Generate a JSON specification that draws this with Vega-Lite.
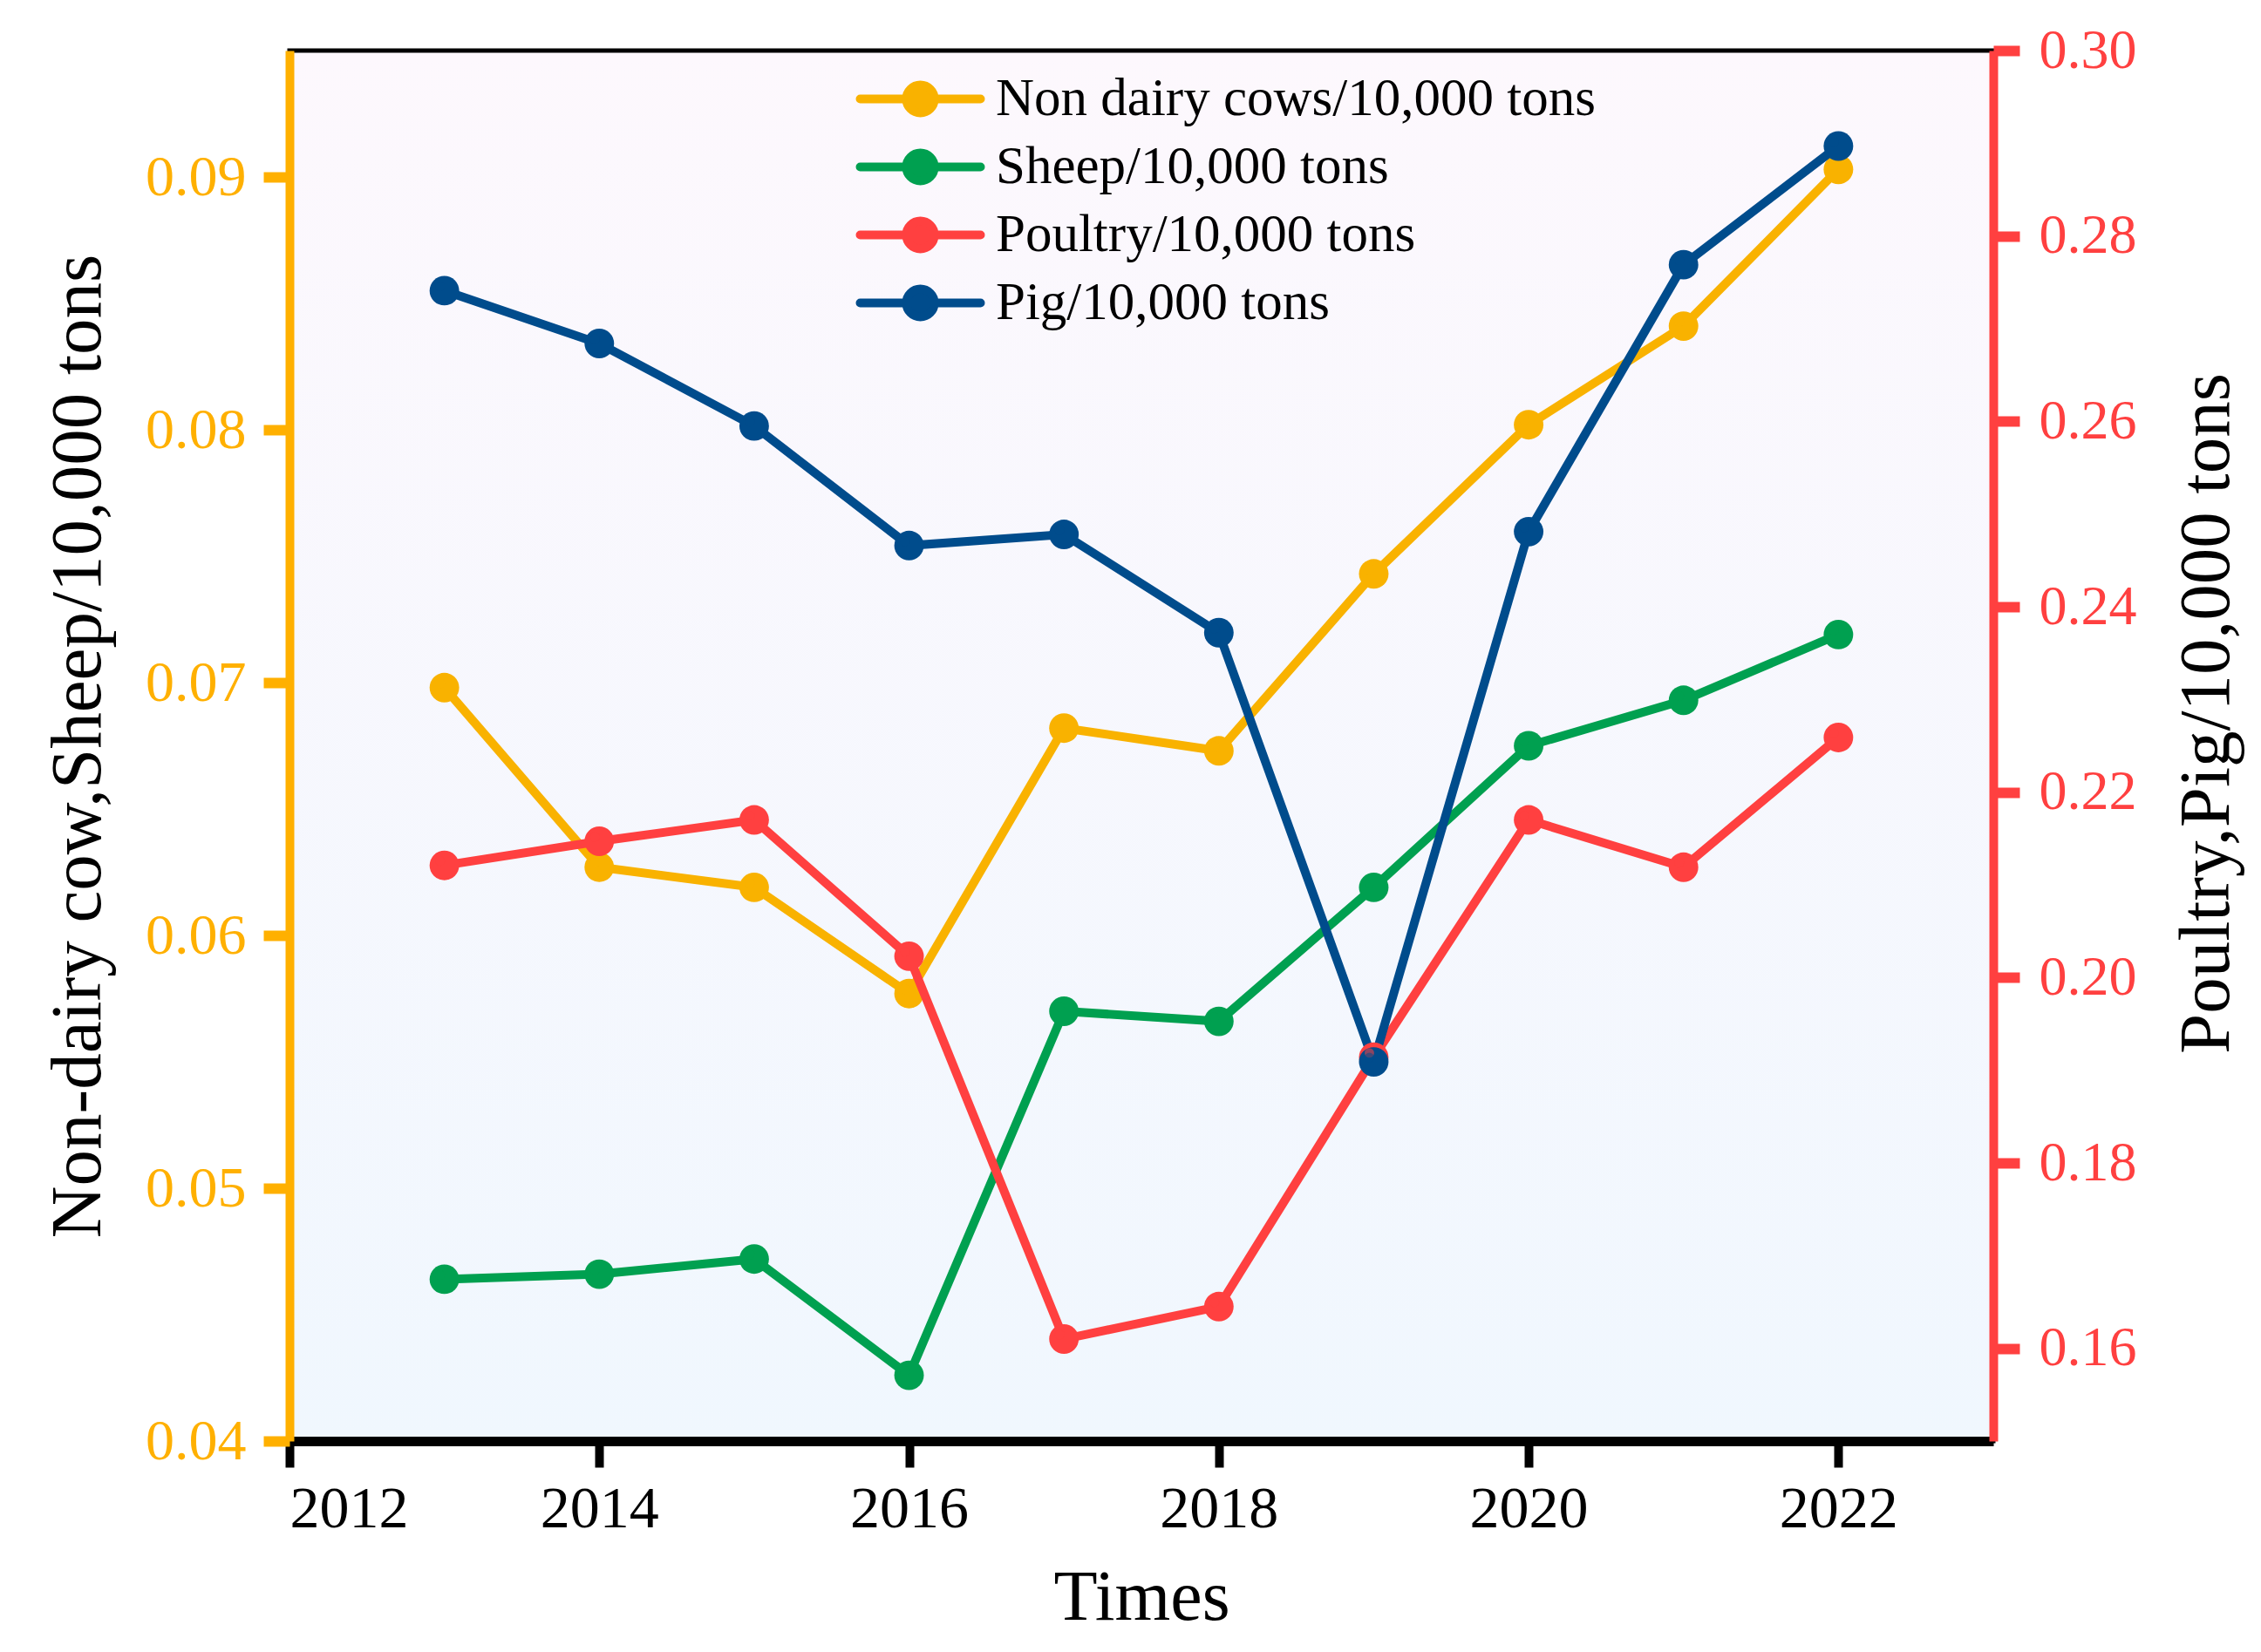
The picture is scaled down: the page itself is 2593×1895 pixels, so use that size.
{
  "$schema": "https://vega.github.io/schema/vega-lite/v6.json",
  "width": 1954,
  "height": 1595,
  "autosize": {"type": "none"},
  "padding": {"left": 332, "top": 58, "right": 307, "bottom": 242},
  "background": "white",
  "config": {
    "view": {
      "fill": {"gradient": "linear", "x1": 0, "y1": 0, "x2": 0, "y2": 1, "stops": [{"offset": 0, "color": "#FDF8FD"}, {"offset": 1, "color": "#F0F7FE"}]},
      "stroke": "black",
      "strokeWidth": 5
    },
    "font": "Liberation Serif",
    "axis": {"grid": false, "labelFont": "Liberation Serif", "titleFont": "Liberation Serif", "titleFontWeight": "normal"}
  },
  "data": {
    "values": [
      {"year": 2013, "series": "Non dairy cows/10,000 tons", "side": "left", "value": 0.0698},
      {"year": 2014, "series": "Non dairy cows/10,000 tons", "side": "left", "value": 0.0627},
      {"year": 2015, "series": "Non dairy cows/10,000 tons", "side": "left", "value": 0.0619},
      {"year": 2016, "series": "Non dairy cows/10,000 tons", "side": "left", "value": 0.0577},
      {"year": 2017, "series": "Non dairy cows/10,000 tons", "side": "left", "value": 0.0682},
      {"year": 2018, "series": "Non dairy cows/10,000 tons", "side": "left", "value": 0.0673},
      {"year": 2019, "series": "Non dairy cows/10,000 tons", "side": "left", "value": 0.0743},
      {"year": 2020, "series": "Non dairy cows/10,000 tons", "side": "left", "value": 0.0802},
      {"year": 2021, "series": "Non dairy cows/10,000 tons", "side": "left", "value": 0.0841},
      {"year": 2022, "series": "Non dairy cows/10,000 tons", "side": "left", "value": 0.0903},
      {"year": 2013, "series": "Sheep/10,000 tons", "side": "left", "value": 0.0464},
      {"year": 2014, "series": "Sheep/10,000 tons", "side": "left", "value": 0.0466},
      {"year": 2015, "series": "Sheep/10,000 tons", "side": "left", "value": 0.0472},
      {"year": 2016, "series": "Sheep/10,000 tons", "side": "left", "value": 0.0426},
      {"year": 2017, "series": "Sheep/10,000 tons", "side": "left", "value": 0.0570},
      {"year": 2018, "series": "Sheep/10,000 tons", "side": "left", "value": 0.0566},
      {"year": 2019, "series": "Sheep/10,000 tons", "side": "left", "value": 0.0619},
      {"year": 2020, "series": "Sheep/10,000 tons", "side": "left", "value": 0.0675},
      {"year": 2021, "series": "Sheep/10,000 tons", "side": "left", "value": 0.0693},
      {"year": 2022, "series": "Sheep/10,000 tons", "side": "left", "value": 0.0719},
      {"year": 2013, "series": "Poultry/10,000 tons", "side": "right", "value": 0.2121},
      {"year": 2014, "series": "Poultry/10,000 tons", "side": "right", "value": 0.2147},
      {"year": 2015, "series": "Poultry/10,000 tons", "side": "right", "value": 0.2170},
      {"year": 2016, "series": "Poultry/10,000 tons", "side": "right", "value": 0.2023},
      {"year": 2017, "series": "Poultry/10,000 tons", "side": "right", "value": 0.1610},
      {"year": 2018, "series": "Poultry/10,000 tons", "side": "right", "value": 0.1645},
      {"year": 2019, "series": "Poultry/10,000 tons", "side": "right", "value": 0.1914},
      {"year": 2020, "series": "Poultry/10,000 tons", "side": "right", "value": 0.2170},
      {"year": 2021, "series": "Poultry/10,000 tons", "side": "right", "value": 0.2119},
      {"year": 2022, "series": "Poultry/10,000 tons", "side": "right", "value": 0.2259},
      {"year": 2013, "series": "Pig/10,000 tons", "side": "right", "value": 0.2741},
      {"year": 2014, "series": "Pig/10,000 tons", "side": "right", "value": 0.2684},
      {"year": 2015, "series": "Pig/10,000 tons", "side": "right", "value": 0.2595},
      {"year": 2016, "series": "Pig/10,000 tons", "side": "right", "value": 0.2466},
      {"year": 2017, "series": "Pig/10,000 tons", "side": "right", "value": 0.2478},
      {"year": 2018, "series": "Pig/10,000 tons", "side": "right", "value": 0.2372},
      {"year": 2019, "series": "Pig/10,000 tons", "side": "right", "value": 0.1909},
      {"year": 2020, "series": "Pig/10,000 tons", "side": "right", "value": 0.2481},
      {"year": 2021, "series": "Pig/10,000 tons", "side": "right", "value": 0.2769},
      {"year": 2022, "series": "Pig/10,000 tons", "side": "right", "value": 0.2897}
    ]
  },
  "encoding": {
    "x": {
      "field": "year", "type": "quantitative",
      "scale": {"domain": [2012, 2023], "nice": false, "zero": false},
      "axis": {
        "title": "Times", "titleFont": "Liberation Serif", "titleFontSize": 82, "titleColor": "black", "titlePadding": 27,
        "values": [2012, 2014, 2016, 2018, 2020, 2022], "format": "d",
        "labelFont": "Liberation Serif", "labelFontSize": 68, "labelColor": "black", "labelPadding": 14,
        "domainColor": "black", "domainWidth": 11, "tickColor": "black", "tickWidth": 10, "tickSize": 30
      }
    },
    "color": {
      "field": "series", "type": "nominal",
      "scale": {
        "domain": ["Non dairy cows/10,000 tons", "Sheep/10,000 tons", "Poultry/10,000 tons", "Pig/10,000 tons"],
        "range": ["#F9B200", "#00A050", "#FF4040", "#004C8C"]
      },
      "legend": {
        "title": null, "orient": "none", "legendX": 693, "legendY": 25,
        "labelFontSize": 61, "labelFont": "Liberation Serif", "labelColor": "black", "labelLimit": 2000,
        "symbolType": "M-3.45,0L3.45,0M-0.8,0A0.8,0.8,0,1,1,0.8,0A0.8,0.8,0,1,1,-0.8,0Z",
        "symbolSize": 1600, "symbolStrokeWidth": 10, "rowPadding": 5, "labelOffset": 56,
        "encode": {"symbols": {"update": {"fill": {"scale": "color", "field": "value"}, "stroke": {"scale": "color", "field": "value"}, "strokeCap": {"value": "round"}, "opacity": {"value": 1}}}}
      }
    }
  },
  "layer": [
    {
      "transform": [{"filter": "datum.side === 'left'"}],
      "encoding": {
        "y": {
          "field": "value", "type": "quantitative",
          "scale": {"domain": [0.04, 0.095], "nice": false, "zero": false},
          "axis": {
            "orient": "left", "title": "Non-dairy cow,Sheep/10,000 tons", "titleFont": "Liberation Serif", "titleFontSize": 83, "titleColor": "black", "titlePadding": 35,
            "values": [0.04, 0.05, 0.06, 0.07, 0.08, 0.09], "format": ".2f",
            "labelFont": "Liberation Serif", "labelFontSize": 66, "labelColor": "#FFB000", "labelPadding": 20,
            "domainColor": "#FFB000", "domainWidth": 10, "tickColor": "#FFB000", "tickWidth": 12, "tickSize": 30
          }
        }
      },
      "layer": [
        {"mark": {"type": "line", "strokeWidth": 10}},
        {"mark": {"type": "point", "shape": "circle", "filled": true, "size": 1150, "opacity": 1}},
        {"mark": {"type": "point", "shape": "circle", "filled": true, "size": 120, "color": "white", "opacity": 0.55, "xOffset": -5, "yOffset": -5}}
      ]
    },
    {
      "transform": [{"filter": "datum.side === 'right'"}],
      "encoding": {
        "y": {
          "field": "value", "type": "quantitative",
          "scale": {"domain": [0.15, 0.30], "nice": false, "zero": false},
          "axis": {
            "orient": "right", "title": "Poultry,Pig/10,000 tons", "titleFont": "Liberation Serif", "titleFontSize": 83, "titleColor": "black", "titlePadding": 122, "titleAngle": 270, "titleY": 760,
            "values": [0.16, 0.18, 0.2, 0.22, 0.24, 0.26, 0.28, 0.3], "format": ".2f",
            "labelFont": "Liberation Serif", "labelFontSize": 64, "labelColor": "#FF4040", "labelPadding": 22,
            "domainColor": "#FF4040", "domainWidth": 10, "tickColor": "#FF4040", "tickWidth": 12, "tickSize": 30
          }
        }
      },
      "layer": [
        {"mark": {"type": "line", "strokeWidth": 10}},
        {"mark": {"type": "point", "shape": "circle", "filled": true, "size": 1150, "opacity": 1}},
        {"mark": {"type": "point", "shape": "circle", "filled": true, "size": 120, "color": "white", "opacity": 0.55, "xOffset": -5, "yOffset": -5}}
      ]
    }
  ],
  "resolve": {"scale": {"y": "independent"}}
}
